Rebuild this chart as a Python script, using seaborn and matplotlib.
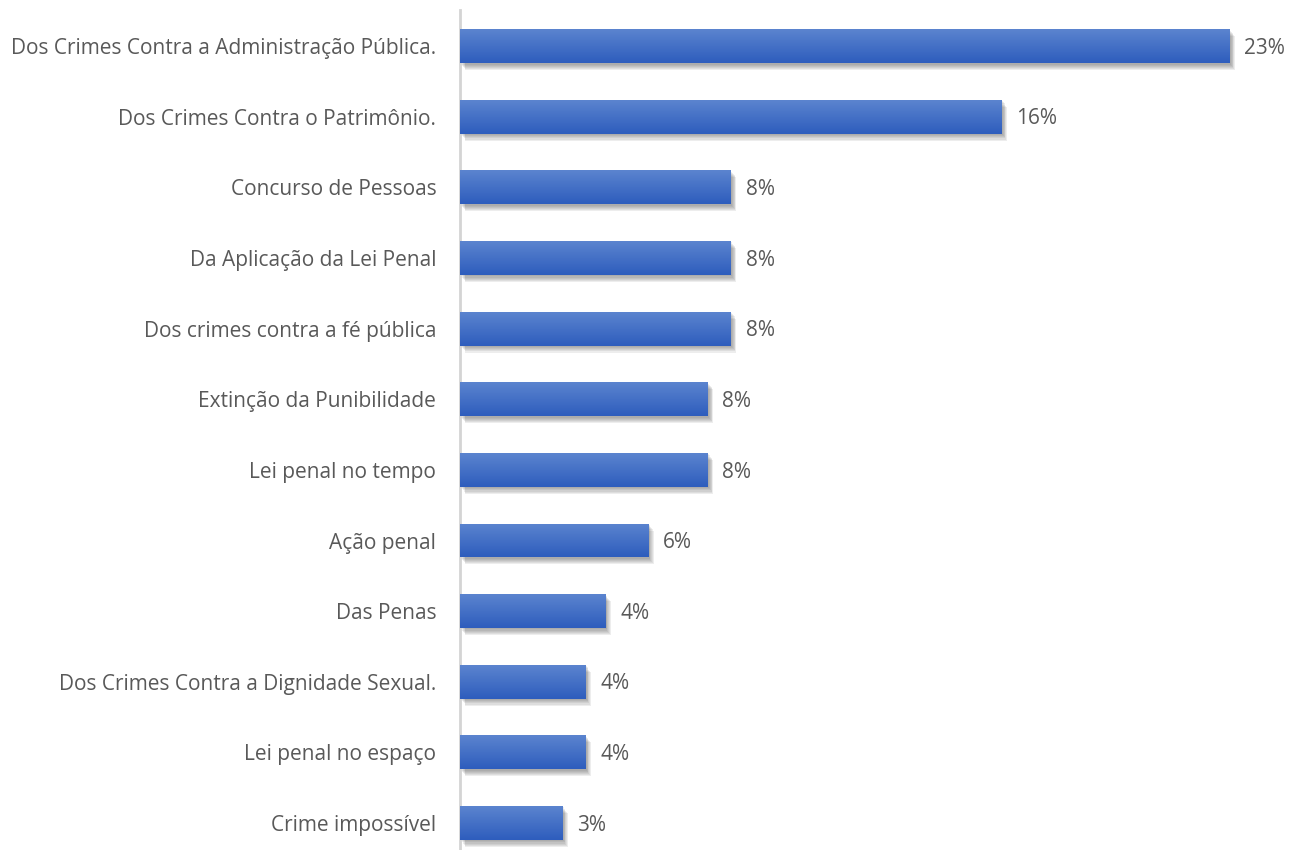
import numpy as np
import pandas as pd
import seaborn as sns
import matplotlib.pyplot as plt
import matplotlib.patheffects as pe
from matplotlib.colors import LinearSegmentedColormap

# data
categorias = [
    "Dos Crimes Contra a Administração Pública.",
    "Dos Crimes Contra o Patrimônio.",
    "Concurso de Pessoas",
    "Da Aplicação da Lei Penal",
    "Dos crimes contra a fé pública",
    "Extinção da Punibilidade",
    "Lei penal no tempo",
    "Ação penal",
    "Das Penas",
    "Dos Crimes Contra a Dignidade Sexual.",
    "Lei penal no espaço",
    "Crime impossível",
]
valores = [23.3, 16.4, 8.2, 8.2, 8.2, 7.5, 7.5, 5.7, 4.4, 3.8, 3.8, 3.1]
rotulos = ["23%", "16%", "8%", "8%", "8%", "8%", "8%", "6%", "4%", "4%", "4%", "3%"]

df = pd.DataFrame({"cat": categorias, "val": valores})

sns.set_style("white")
plt.rcParams["font.family"] = ["Open Sans", "DejaVu Sans"]
texto = "#595959"

fig = plt.figure(figsize=(12.9, 8.5), dpi=100)
ax = fig.add_axes([0.3565, 0.0, 0.635, 0.988])

sns.barplot(data=df, x="val", y="cat", orient="h", color="#4170c6",
            width=0.48, ax=ax, zorder=2, linewidth=0)

# gradient fill + soft shadow on each bar
grad = LinearSegmentedColormap.from_list("g", ["#5b84cf", "#2e5dbd"])
g = np.linspace(0, 1, 64).reshape(-1, 1)
sombra = [pe.SimplePatchShadow(offset=(1 + k * 0.6, -1 - k * 0.8), shadow_rgbFace="#555555", alpha=0.1)
          for k in range(6)]
for p in ax.patches:
    x0, y0 = p.get_x(), p.get_y()
    w, h = p.get_width(), p.get_height()
    p.set_path_effects(sombra + [pe.Normal()])
    im = ax.imshow(g, cmap=grad, aspect="auto", extent=[x0, x0 + w, y0 + h, y0],
                   origin="upper", zorder=3, interpolation="bilinear")
    im.set_clip_path(p)

for i, (v, r) in enumerate(zip(valores, rotulos)):
    ax.text(v + 0.45, i + 0.03, r, va="center", ha="left", fontsize=15, color=texto)

ax.set_xlim(0, 24.8)
ax.set_ylim(11 + 27 / 70.6, -36 / 70.6)
ax.set_xlabel("")
ax.set_ylabel("")
ax.set_xticks([])
ax.tick_params(axis="y", length=0, pad=17, labelsize=15, labelcolor=texto)
for s in ["top", "right", "bottom"]:
    ax.spines[s].set_visible(False)
ax.spines["left"].set_color("#d4d4d4")
ax.spines["left"].set_linewidth(2)

fig.savefig("out.png", dpi=100)
